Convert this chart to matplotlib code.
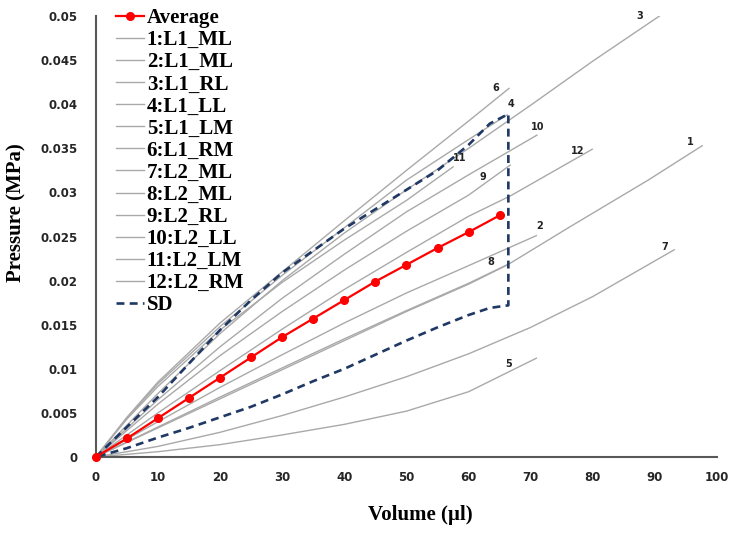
import numpy as np
import matplotlib
matplotlib.use('Agg')
import matplotlib.pyplot as plt

# average curve (red)
avg_vol = [0, 5, 10, 15, 20, 25, 30, 35, 40, 45, 50, 55, 60, 65]
avg_p = [0, 0.0021, 0.0044, 0.0067, 0.0090, 0.0113, 0.0136, 0.0157,
         0.0178, 0.0199, 0.0218, 0.0237, 0.0255, 0.0274]

# SD envelope
sd_vol = [0, 5, 10, 15, 20, 25, 30, 35, 40, 45, 50, 55, 60, 63.4, 66.4]
sd_upper = [0, 0.0034, 0.0068, 0.0106, 0.0144, 0.0178, 0.0209, 0.0234,
            0.0259, 0.0281, 0.0303, 0.0325, 0.0354, 0.0378, 0.0389]
sd_lower = [0, 0.0010, 0.0022, 0.0033, 0.0045, 0.0057, 0.0071, 0.0086,
            0.0100, 0.0116, 0.0132, 0.0147, 0.0161, 0.0169, 0.0172]

# individual samples
c1_v = [0, 10, 20, 30, 40, 50, 60, 66.3, 76.3, 88.9, 97.6]
c1_p = [0, 0.0033, 0.0066, 0.0099, 0.0132, 0.0165, 0.0196, 0.0218, 0.0261, 0.0314, 0.0353]
c2_v = [0, 10, 20, 30, 40, 50, 60, 70.9]
c2_p = [0, 0.0040, 0.0079, 0.0116, 0.0152, 0.0186, 0.0217, 0.0251]
c3_v = [0, 10, 20, 30, 40, 50, 60, 70, 80, 90.7]
c3_p = [0, 0.0072, 0.0140, 0.0200, 0.0254, 0.0303, 0.0350, 0.0399, 0.0449, 0.0500]
c4_v = [0, 5, 10, 20, 30, 40, 50, 60, 66.2]
c4_p = [0, 0.0044, 0.0083, 0.0148, 0.0206, 0.0260, 0.0314, 0.0360, 0.0388]
c5_v = [0, 10, 20, 30, 40, 50, 60, 70.9]
c5_p = [0, 0.0006, 0.0014, 0.0025, 0.0037, 0.0052, 0.0074, 0.0112]
c6_v = [0, 5, 10, 20, 30, 40, 50, 60, 66.5]
c6_p = [0, 0.0045, 0.0085, 0.0152, 0.0210, 0.0268, 0.0325, 0.0381, 0.0418]
c7_v = [0, 10, 20, 30, 40, 50, 60, 70, 80, 93.1]
c7_p = [0, 0.0012, 0.0028, 0.0047, 0.0068, 0.0091, 0.0117, 0.0147, 0.0182, 0.0235]
c8_v = [0, 10, 20, 30, 40, 50, 60, 66.2]
c8_p = [0, 0.0034, 0.0068, 0.0101, 0.0134, 0.0166, 0.0197, 0.0218]
c9_v = [0, 10, 20, 30, 40, 50, 60, 66.7]
c9_p = [0, 0.0060, 0.0115, 0.0165, 0.0212, 0.0256, 0.0297, 0.0331]
c10_v = [0, 10, 20, 30, 40, 50, 60, 71]
c10_p = [0, 0.0065, 0.0125, 0.0180, 0.0230, 0.0278, 0.0320, 0.0365]
c11_v = [0, 5, 10, 20, 30, 40, 50, 57.5]
c11_p = [0, 0.0043, 0.0080, 0.0144, 0.0198, 0.0246, 0.0291, 0.0329]
c12_v = [0, 10, 20, 30, 40, 50, 60, 66.7, 79.9]
c12_p = [0, 0.0050, 0.0098, 0.0145, 0.0190, 0.0232, 0.0273, 0.0296, 0.0349]

names = ['1:L1_ML', '2:L1_ML', '3:L1_RL', '4:L1_LL', '5:L1_LM', '6:L1_RM',
         '7:L2_ML', '8:L2_ML', '9:L2_RL', '10:L2_LL', '11:L2_LM', '12:L2_RM']
curves = [(c1_v, c1_p), (c2_v, c2_p), (c3_v, c3_p), (c4_v, c4_p), (c5_v, c5_p),
          (c6_v, c6_p), (c7_v, c7_p), (c8_v, c8_p), (c9_v, c9_p), (c10_v, c10_p),
          (c11_v, c11_p), (c12_v, c12_p)]

# number tags next to line ends
tag_text = ['1', '2', '3', '4', '5', '6', '7', '8', '9', '10', '11', '12']
tag_x = [95.7, 71.5, 87.6, 66.8, 66.4, 64.3, 91.5, 63.5, 62.3, 71.2, 58.5, 77.5]
tag_y = [0.0357, 0.0262, 0.0500, 0.0400, 0.0105, 0.0419, 0.0238, 0.0221, 0.0317, 0.0374, 0.0339, 0.0347]

fig = plt.figure(figsize=(7.37, 5.37), dpi=100)
ax = fig.add_axes([0.130, 0.149, 0.843, 0.821])

ax.plot(avg_vol, avg_p, color='#ff0000', marker='o', markersize=5.5, linewidth=1.6,
        label='Average', zorder=5, clip_on=False)
for (v, p), nm in zip(curves, names):
    ax.plot(v, p, color='#a9a9a9', linewidth=1.0, label=nm, zorder=2)
ax.plot(np.concatenate([sd_vol, sd_vol[::-1]]), np.concatenate([sd_upper, sd_lower[::-1]]),
        color='#1f3864', linestyle='--', linewidth=1.9, dashes=(3, 2), label='SD', zorder=4)

for t, x, y in zip(tag_text, tag_x, tag_y):
    ax.text(x, y, t, fontsize=7, fontweight='bold', color='#222222', ha='center', va='center')

ax.set_xlim(0, 100)
ax.set_ylim(0, 0.05)
ax.set_xticks(np.arange(0, 101, 10))
ax.set_yticks(np.arange(0, 0.0501, 0.005))
ax.set_yticklabels(['0', '0.005', '0.01', '0.015', '0.02', '0.025', '0.03', '0.035',
                    '0.04', '0.045', '0.05'])
ax.tick_params(length=0, labelsize=8.5, colors='#262626')
ax.tick_params(axis='y', pad=13)
ax.tick_params(axis='x', pad=10)
for lab in ax.get_xticklabels() + ax.get_yticklabels():
    lab.set_fontweight('bold')
for s in ['top', 'right']:
    ax.spines[s].set_visible(False)
for s in ['left', 'bottom']:
    ax.spines[s].set_color('#595959')
    ax.spines[s].set_linewidth(1.5)

ax.set_xlabel('Volume (µl)', fontsize=15, fontweight='bold', family='Liberation Serif')
ax.set_ylabel('Pressure (MPa)', fontsize=15, fontweight='bold', family='Liberation Serif')
ax.xaxis.set_label_coords(0.522, -0.110)
ax.yaxis.set_label_coords(-0.112, 0.555)

ax.legend(loc='upper left', bbox_to_anchor=(0.141, 1.008), bbox_transform=fig.transFigure,
          frameon=False, prop={'family': 'Liberation Serif', 'weight': 'bold', 'size': 15},
          labelspacing=0.1, handlelength=1.3, handletextpad=0.15, borderpad=0.1)

fig.savefig('out.png', dpi=100)
